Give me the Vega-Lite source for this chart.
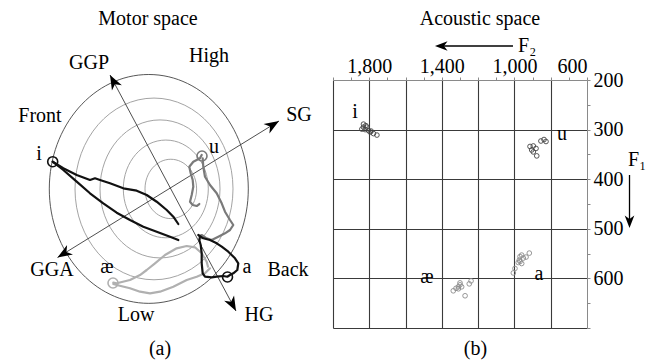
{
 "$schema": "https://vega.github.io/schema/vega-lite/v6.json",
 "width": 254,
 "height": 248,
 "autosize": {"type": "none"},
 "padding": {"left": 333, "top": 80, "right": 67, "bottom": 34},
 "background": "white",
 "config": {"font": "Liberation Serif", "view": {"stroke": null}, "axis": {"labelFont": "Liberation Serif"}},
 "datasets": {
  "rings": [
   {"X": -1.06, "Y": -0.04, "r": 4.975},
   {"X": -0.8, "Y": -0.04, "r": 3.95},
   {"X": -0.5, "Y": -0.04, "r": 3.0},
   {"X": -0.21, "Y": -0.04, "r": 2.125},
   {"X": 0.04, "Y": -0.04, "r": 1.29}
  ],
  "motorAxes": [
   {"axis": "GGP-HG", "X": -3.0, "Y": 4.913, "X2": 3.3, "Y2": -5.348},
   {"axis": "GGA-SG", "X": -5.625, "Y": -3.022, "X2": 5.45, "Y2": 2.913}
  ],
  "heads": [
   {"axis": "GGP", "X": -3.0, "Y": 4.913},
   {"axis": "HG", "X": 3.3, "Y": -5.348},
   {"axis": "SG", "X": 5.45, "Y": 2.913},
   {"axis": "GGA", "X": -5.625, "Y": -3.022}
  ],
  "paths": [
   {"path": "ae1", "vowel": "æ", "X": -2.835, "Y": -4.117},
   {"path": "ae1", "vowel": "æ", "X": -2.665, "Y": -4.143},
   {"path": "ae1", "vowel": "æ", "X": -2.0, "Y": -4.0},
   {"path": "ae1", "vowel": "æ", "X": -1.5, "Y": -3.783},
   {"path": "ae1", "vowel": "æ", "X": -1.165, "Y": -3.565},
   {"path": "ae1", "vowel": "æ", "X": -0.75, "Y": -3.274},
   {"path": "ae1", "vowel": "æ", "X": -0.25, "Y": -2.913},
   {"path": "ae1", "vowel": "æ", "X": 0.335, "Y": -2.622},
   {"path": "ae1", "vowel": "æ", "X": 0.835, "Y": -2.522},
   {"path": "ae1", "vowel": "æ", "X": 1.25, "Y": -2.578},
   {"path": "ae1", "vowel": "æ", "X": 1.585, "Y": -2.839},
   {"path": "ae1", "vowel": "æ", "X": 1.835, "Y": -3.204},
   {"path": "ae1", "vowel": "æ", "X": 1.9, "Y": -3.422},
   {"path": "ae2", "vowel": "æ", "X": -2.835, "Y": -4.174},
   {"path": "ae2", "vowel": "æ", "X": -2.665, "Y": -4.217},
   {"path": "ae2", "vowel": "æ", "X": -2.0, "Y": -4.361},
   {"path": "ae2", "vowel": "æ", "X": -1.5, "Y": -4.509},
   {"path": "ae2", "vowel": "æ", "X": -1.0, "Y": -4.578},
   {"path": "ae2", "vowel": "æ", "X": -0.5, "Y": -4.509},
   {"path": "ae2", "vowel": "æ", "X": 0.165, "Y": -4.291},
   {"path": "ae2", "vowel": "æ", "X": 0.835, "Y": -4.0},
   {"path": "ae2", "vowel": "æ", "X": 1.335, "Y": -3.857},
   {"path": "ae2", "vowel": "æ", "X": 1.75, "Y": -3.709},
   {"path": "ae2", "vowel": "æ", "X": 2.0, "Y": -3.491},
   {"path": "u1", "vowel": "u", "X": 1.585, "Y": 1.435},
   {"path": "u1", "vowel": "u", "X": 1.5, "Y": 1.291},
   {"path": "u1", "vowel": "u", "X": 1.165, "Y": 1.143},
   {"path": "u1", "vowel": "u", "X": 0.965, "Y": 0.926},
   {"path": "u1", "vowel": "u", "X": 1.035, "Y": 0.639},
   {"path": "u1", "vowel": "u", "X": 1.135, "Y": 0.348},
   {"path": "u1", "vowel": "u", "X": 1.165, "Y": 0.057},
   {"path": "u1", "vowel": "u", "X": 1.085, "Y": -0.304},
   {"path": "u1", "vowel": "u", "X": 1.0, "Y": -0.596},
   {"path": "u1", "vowel": "u", "X": 1.135, "Y": -0.739},
   {"path": "u1", "vowel": "u", "X": 1.335, "Y": -0.783},
   {"path": "u1", "vowel": "u", "X": 1.465, "Y": -0.696},
   {"path": "u2", "vowel": "u", "X": 1.635, "Y": 1.291},
   {"path": "u2", "vowel": "u", "X": 1.665, "Y": 0.926},
   {"path": "u2", "vowel": "u", "X": 1.75, "Y": 0.491},
   {"path": "u2", "vowel": "u", "X": 2.0, "Y": 0.13},
   {"path": "u2", "vowel": "u", "X": 2.335, "Y": -0.23},
   {"path": "u2", "vowel": "u", "X": 2.585, "Y": -0.665},
   {"path": "u2", "vowel": "u", "X": 2.75, "Y": -1.03},
   {"path": "u2", "vowel": "u", "X": 3.0, "Y": -1.391},
   {"path": "u2", "vowel": "u", "X": 3.165, "Y": -1.609},
   {"path": "u2", "vowel": "u", "X": 3.0, "Y": -1.826},
   {"path": "u2", "vowel": "u", "X": 2.75, "Y": -1.97},
   {"path": "u2", "vowel": "u", "X": 2.415, "Y": -2.117},
   {"path": "u2", "vowel": "u", "X": 2.085, "Y": -2.261},
   {"path": "u2", "vowel": "u", "X": 1.835, "Y": -2.187},
   {"path": "u2", "vowel": "u", "X": 1.585, "Y": -2.043},
   {"path": "u2", "vowel": "u", "X": 1.465, "Y": -2.087},
   {"path": "i1", "vowel": "i", "X": -5.865, "Y": 1.143},
   {"path": "i1", "vowel": "i", "X": -5.335, "Y": 0.857},
   {"path": "i1", "vowel": "i", "X": -4.665, "Y": 0.565},
   {"path": "i1", "vowel": "i", "X": -4.0, "Y": 0.348},
   {"path": "i1", "vowel": "i", "X": -3.75, "Y": 0.422},
   {"path": "i1", "vowel": "i", "X": -3.5, "Y": 0.348},
   {"path": "i1", "vowel": "i", "X": -3.0, "Y": 0.204},
   {"path": "i1", "vowel": "i", "X": -2.335, "Y": -0.013},
   {"path": "i1", "vowel": "i", "X": -1.665, "Y": -0.117},
   {"path": "i1", "vowel": "i", "X": -1.165, "Y": -0.304},
   {"path": "i1", "vowel": "i", "X": -0.665, "Y": -0.596},
   {"path": "i1", "vowel": "i", "X": -0.165, "Y": -0.957},
   {"path": "i1", "vowel": "i", "X": 0.165, "Y": -1.248},
   {"path": "i1", "vowel": "i", "X": 0.415, "Y": -1.565},
   {"path": "i2", "vowel": "i", "X": -5.865, "Y": 1.143},
   {"path": "i2", "vowel": "i", "X": -5.335, "Y": 0.783},
   {"path": "i2", "vowel": "i", "X": -4.665, "Y": 0.274},
   {"path": "i2", "vowel": "i", "X": -4.0, "Y": -0.23},
   {"path": "i2", "vowel": "i", "X": -3.335, "Y": -0.665},
   {"path": "i2", "vowel": "i", "X": -2.665, "Y": -1.074},
   {"path": "i2", "vowel": "i", "X": -2.0, "Y": -1.391},
   {"path": "i2", "vowel": "i", "X": -1.335, "Y": -1.683},
   {"path": "i2", "vowel": "i", "X": -0.665, "Y": -1.9},
   {"path": "i2", "vowel": "i", "X": 0.0, "Y": -2.117},
   {"path": "i2", "vowel": "i", "X": 0.415, "Y": -2.261},
   {"path": "a1", "vowel": "a", "X": 1.415, "Y": -2.043},
   {"path": "a1", "vowel": "a", "X": 1.665, "Y": -2.187},
   {"path": "a1", "vowel": "a", "X": 2.0, "Y": -2.261},
   {"path": "a1", "vowel": "a", "X": 2.335, "Y": -2.404},
   {"path": "a1", "vowel": "a", "X": 2.585, "Y": -2.552},
   {"path": "a1", "vowel": "a", "X": 2.915, "Y": -2.77},
   {"path": "a1", "vowel": "a", "X": 3.25, "Y": -3.057},
   {"path": "a1", "vowel": "a", "X": 3.415, "Y": -3.274},
   {"path": "a1", "vowel": "a", "X": 3.365, "Y": -3.565},
   {"path": "a1", "vowel": "a", "X": 3.165, "Y": -3.709},
   {"path": "a1", "vowel": "a", "X": 3.0, "Y": -3.783},
   {"path": "a1", "vowel": "a", "X": 2.865, "Y": -3.857},
   {"path": "a1", "vowel": "a", "X": 2.665, "Y": -3.826},
   {"path": "a1", "vowel": "a", "X": 2.335, "Y": -3.857},
   {"path": "a1", "vowel": "a", "X": 2.085, "Y": -3.883},
   {"path": "a1", "vowel": "a", "X": 1.75, "Y": -3.857},
   {"path": "a1", "vowel": "a", "X": 1.635, "Y": -3.709},
   {"path": "a1", "vowel": "a", "X": 1.585, "Y": -3.274},
   {"path": "a1", "vowel": "a", "X": 1.585, "Y": -2.839},
   {"path": "a1", "vowel": "a", "X": 1.535, "Y": -2.478},
   {"path": "a1", "vowel": "a", "X": 1.465, "Y": -2.261},
   {"path": "a1", "vowel": "a", "X": 1.5, "Y": -2.117}
  ],
  "ends": [
   {"vowel": "i", "X": -5.865, "Y": 1.143},
   {"vowel": "u", "X": 1.6, "Y": 1.391},
   {"vowel": "æ", "X": -2.85, "Y": -4.13},
   {"vowel": "a", "X": 2.875, "Y": -3.87}
  ],
  "motorLabels": [
   {"label": "Motor space", "X": -1.1, "Y": 7.087},
   {"label": "High", "X": 1.95, "Y": 5.478},
   {"label": "GGP", "X": -4.05, "Y": 5.174},
   {"label": "Front", "X": -6.5, "Y": 2.87},
   {"label": "SG", "X": 6.45, "Y": 2.913},
   {"label": "i", "X": -6.55, "Y": 1.217},
   {"label": "u", "X": 2.2, "Y": 1.522},
   {"label": "GGA", "X": -5.9, "Y": -3.826},
   {"label": "æ", "X": -3.15, "Y": -3.696},
   {"label": "a", "X": 3.85, "Y": -3.696},
   {"label": "Back", "X": 5.9, "Y": -3.826},
   {"label": "Low", "X": -1.7, "Y": -5.783},
   {"label": "HG", "X": 4.45, "Y": -5.783},
   {"label": "(a)", "X": -0.5, "Y": -7.261}
  ],
  "formants": [
   {"vowel": "i", "F2": 1832, "F1": 289},
   {"vowel": "i", "F2": 1819, "F1": 292},
   {"vowel": "i", "F2": 1841, "F1": 299},
   {"vowel": "i", "F2": 1823, "F1": 300},
   {"vowel": "i", "F2": 1804, "F1": 302},
   {"vowel": "i", "F2": 1795, "F1": 305},
   {"vowel": "i", "F2": 1777, "F1": 308},
   {"vowel": "i", "F2": 1758, "F1": 311},
   {"vowel": "i", "F2": 1814, "F1": 295},
   {"vowel": "i", "F2": 1832, "F1": 295},
   {"vowel": "i", "F2": 1790, "F1": 303},
   {"vowel": "u", "F2": 914, "F1": 334},
   {"vowel": "u", "F2": 896, "F1": 333},
   {"vowel": "u", "F2": 881, "F1": 338},
   {"vowel": "u", "F2": 905, "F1": 341},
   {"vowel": "u", "F2": 896, "F1": 345},
   {"vowel": "u", "F2": 877, "F1": 353},
   {"vowel": "u", "F2": 854, "F1": 323},
   {"vowel": "u", "F2": 837, "F1": 320},
   {"vowel": "u", "F2": 826, "F1": 324},
   {"vowel": "a", "F2": 1006, "F1": 589},
   {"vowel": "a", "F2": 997, "F1": 580},
   {"vowel": "a", "F2": 979, "F1": 568},
   {"vowel": "a", "F2": 973, "F1": 563},
   {"vowel": "a", "F2": 969, "F1": 556},
   {"vowel": "a", "F2": 960, "F1": 553},
   {"vowel": "a", "F2": 951, "F1": 559},
   {"vowel": "a", "F2": 936, "F1": 557},
   {"vowel": "a", "F2": 918, "F1": 549},
   {"vowel": "a", "F2": 969, "F1": 566},
   {"vowel": "a", "F2": 960, "F1": 570},
   {"vowel": "æ", "F2": 1337, "F1": 625},
   {"vowel": "æ", "F2": 1322, "F1": 620},
   {"vowel": "æ", "F2": 1309, "F1": 617},
   {"vowel": "æ", "F2": 1300, "F1": 613},
   {"vowel": "æ", "F2": 1300, "F1": 609},
   {"vowel": "æ", "F2": 1309, "F1": 621},
   {"vowel": "æ", "F2": 1291, "F1": 617},
   {"vowel": "æ", "F2": 1272, "F1": 635},
   {"vowel": "æ", "F2": 1249, "F1": 611},
   {"vowel": "æ", "F2": 1239, "F1": 605}
  ],
  "acousticLabels": [
   {"label": "Acoustic space", "F2": 1190, "F1": 89},
   {"label": "i", "F2": 1879, "F1": 277},
   {"label": "u", "F2": 738, "F1": 321},
   {"label": "a", "F2": 865, "F1": 603},
   {"label": "æ", "F2": 1482, "F1": 609},
   {"label": "(b)", "F2": 1215, "F1": 754}
  ],
  "formantNames": [
   {"label": "F₂", "F2": 980, "F1": 143.5},
   {"label": "F₁", "F2": 374, "F1": 373}
  ],
  "acousticArrows": [
   {"name": "F2", "F2": 1008, "F1": 131.5, "F2e": 1390, "F1e": 131.5},
   {"name": "F1", "F2": 365.7, "F1": 391.5, "F2e": 365.7, "F1e": 486}
  ],
  "acousticHeads": [
   {"name": "F2", "F2": 1438, "F1": 131.5},
   {"name": "F1", "F2": 365.7, "F1": 498.4}
  ]
 },
 "resolve": {"scale": {"x": "independent", "y": "independent", "color": "independent"}},
 "layer": [
  {
   "encoding": {
    "x": {"field": "X", "type": "quantitative", "scale": {"domain": [8.15, 20.85], "nice": false, "zero": false}, "axis": null},
    "y": {"field": "Y", "type": "quantitative", "scale": {"domain": [-6.087, 4.696], "nice": false, "zero": false}, "axis": null}
   },
   "layer": [
    {
     "data": {"name": "rings"},
     "mark": {"type": "point", "shape": "M1,0C1,0.6351,0.5523,1.15,0,1.15C-0.5523,1.15,-1,0.6351,-1,0C-1,-0.6351,-0.5523,-1.15,0,-1.15C0.5523,-1.15,1,-0.6351,1,0Z", "filled": false, "opacity": 1, "strokeWidth": 0.9},
     "encoding": {
      "size": {"field": "r", "type": "quantitative", "scale": {"type": "pow", "exponent": 2, "domain": [0, 5], "range": [0, 40000]}, "legend": null},
      "stroke": {"condition": {"test": "datum.r > 4.5", "value": "#444444"}, "value": "#999999"}
     }
    },
    {
     "data": {"name": "motorAxes"},
     "mark": {"type": "rule", "color": "#222222", "strokeWidth": 0.8},
     "encoding": {"x2": {"field": "X2"}, "y2": {"field": "Y2"}}
    },
    {
     "data": {"name": "heads"},
     "transform": [{"filter": "datum.axis === 'GGP'"}],
     "mark": {"type": "point", "shape": "M0,0L0.8,2.1L0,1.5L-0.8,2.1Z", "filled": true, "opacity": 1, "size": 196, "angle": 332, "color": "#000000"}
    },
    {
     "data": {"name": "heads"},
     "transform": [{"filter": "datum.axis === 'HG'"}],
     "mark": {"type": "point", "shape": "M0,0L0.8,2.1L0,1.5L-0.8,2.1Z", "filled": true, "opacity": 1, "size": 196, "angle": 152, "color": "#000000"}
    },
    {
     "data": {"name": "heads"},
     "transform": [{"filter": "datum.axis === 'SG'"}],
     "mark": {"type": "point", "shape": "M0,0L0.8,2.1L0,1.5L-0.8,2.1Z", "filled": true, "opacity": 1, "size": 196, "angle": 58.4, "color": "#000000"}
    },
    {
     "data": {"name": "heads"},
     "transform": [{"filter": "datum.axis === 'GGA'"}],
     "mark": {"type": "point", "shape": "M0,0L0.8,2.1L0,1.5L-0.8,2.1Z", "filled": true, "opacity": 1, "size": 196, "angle": 238.4, "color": "#000000"}
    },
    {
     "data": {"name": "paths"},
     "mark": {"type": "line", "strokeWidth": 2.2, "strokeJoin": "round", "strokeCap": "round"},
     "encoding": {
      "color": {"field": "vowel", "type": "nominal", "scale": {"domain": ["i", "a", "u", "æ"], "range": ["#111111", "#111111", "#7a7a7a", "#b0b0b0"]}, "legend": null},
      "detail": {"field": "path"},
      "order": {"value": null}
     }
    },
    {
     "data": {"name": "ends"},
     "mark": {"type": "point", "shape": "circle", "filled": false, "opacity": 1, "size": 100, "strokeWidth": 1.6},
     "encoding": {
      "color": {"field": "vowel", "type": "nominal", "scale": {"domain": ["i", "a", "u", "æ"], "range": ["#111111", "#111111", "#7a7a7a", "#b0b0b0"]}, "legend": null}
     }
    },
    {
     "data": {"name": "motorLabels"},
     "mark": {"type": "text", "fontSize": 20, "baseline": "alphabetic", "align": "center", "color": "#000000", "font": "Liberation Serif"},
     "encoding": {"text": {"field": "label"}}
    }
   ]
  },
  {
   "encoding": {
    "x": {
     "field": "F2", "type": "quantitative",
     "scale": {"domain": [600, 2000], "reverse": true, "nice": false, "zero": false},
     "axis": {
      "orient": "top", "title": null,
      "values": [2000, 1900, 1800, 1700, 1600, 1500, 1400, 1300, 1200, 1100, 1000, 900, 800, 700, 600],
      "labelExpr": "indexof([1800, 1400, 1000, 600], datum.value) >= 0 ? format(datum.value, ',') : ''",
      "labelFont": "Liberation Serif",
      "labelFontSize": 20, "labelColor": "#000000", "labelPadding": 1, "labelFlush": true, "labelOverlap": false,
      "tickSize": 3, "tickColor": "#8a8a8a", "domainColor": "#8a8a8a",
      "grid": true, "gridColor": "#3a3a3a", "gridWidth": 1.1,
      "gridOpacity": {"condition": {"test": "datum.value % 200 === 0 && datum.value > 600", "value": 1}, "value": 0}
     }
    },
    "y": {
     "field": "F1", "type": "quantitative",
     "scale": {"domain": [200, 700], "reverse": true, "nice": false, "zero": false},
     "axis": {
      "orient": "right", "title": null,
      "values": [200, 250, 300, 350, 400, 450, 500, 550, 600, 650, 700],
      "labelExpr": "datum.value % 100 === 0 && datum.value < 700 ? '' + datum.value : ''",
      "labelFont": "Liberation Serif",
      "labelFontSize": 20, "labelColor": "#000000", "labelPadding": 3, "labelOverlap": false,
      "tickSize": 3, "tickColor": "#8a8a8a", "domainColor": "#8a8a8a",
      "grid": true, "gridColor": "#3a3a3a", "gridWidth": 1.1,
      "gridOpacity": {"condition": {"test": "datum.value % 100 === 0 && datum.value > 200", "value": 1}, "value": 0}
     }
    }
   },
   "layer": [
    {
     "data": {"name": "formants"},
     "mark": {"type": "point", "shape": "circle", "filled": false, "opacity": 1, "size": 22, "strokeWidth": 0.9},
     "encoding": {
      "color": {"field": "vowel", "type": "nominal", "scale": {"domain": ["i", "u", "a", "æ"], "range": ["#444444", "#444444", "#8c8c8c", "#8c8c8c"]}, "legend": null}
     }
    },
    {
     "data": {"name": "acousticLabels"},
     "mark": {"type": "text", "fontSize": 20, "baseline": "alphabetic", "align": "center", "color": "#000000", "font": "Liberation Serif"},
     "encoding": {"text": {"field": "label"}}
    },
    {
     "data": {"name": "formantNames"},
     "mark": {"type": "text", "fontSize": 20, "baseline": "alphabetic", "align": "left", "color": "#000000", "font": "Liberation Serif"},
     "encoding": {"text": {"field": "label"}}
    },
    {
     "data": {"name": "acousticArrows"},
     "mark": {"type": "rule", "color": "#000000", "strokeWidth": 1.3},
     "encoding": {"x2": {"field": "F2e"}, "y2": {"field": "F1e"}}
    },
    {
     "data": {"name": "acousticHeads"},
     "transform": [{"filter": "datum.name === 'F2'"}],
     "mark": {"type": "point", "shape": "M0,0L0.8,2.1L0,1.5L-0.8,2.1Z", "filled": true, "opacity": 1, "size": 144, "angle": 270, "color": "#000000"}
    },
    {
     "data": {"name": "acousticHeads"},
     "transform": [{"filter": "datum.name === 'F1'"}],
     "mark": {"type": "point", "shape": "M0,0L0.8,2.1L0,1.5L-0.8,2.1Z", "filled": true, "opacity": 1, "size": 144, "angle": 180, "color": "#000000"}
    }
   ]
  }
 ]
}
